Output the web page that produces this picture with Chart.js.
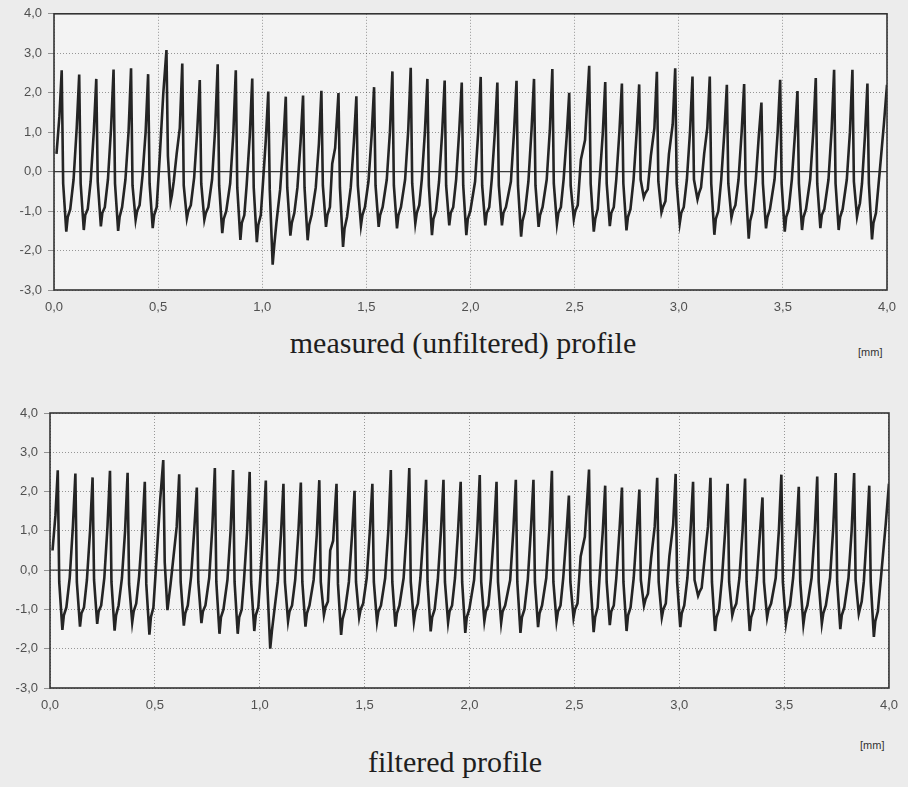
<!DOCTYPE html>
<html lang="en">
<head>
<meta charset="UTF-8">
<title>Measured and filtered profile</title>
<script src="https://cdn.jsdelivr.net/npm/chart.js"></script>
<style>
    body {
        margin: 0;
        width: 908px;
        height: 787px;
        overflow: hidden;
        position: relative;
        background: #ececec;
        font-family: "Liberation Sans", Arial, sans-serif;
    }
    .box { position: absolute; left: 0; width: 908px; }
    #topBox { top: 0; height: 322px; }
    #botBox { top: 380px; height: 340px; }
    .caption {
        position: absolute;
        font-family: "Liberation Serif", "Times New Roman", serif;
        font-size: 30px;
        color: #1e1e1e;
        white-space: nowrap;
        transform: translateX(-50%);
    }
    .unit { position: absolute; font-size: 11px; color: #333; }
</style>
</head>
<body>
<div class="box" id="topBox"><canvas id="measuredChart"></canvas></div>
<div class="caption" style="left:463px; top:326px;">measured (unfiltered) profile</div>
<div class="unit" style="left:858px; top:346px;">[mm]</div>

<div class="box" id="botBox"><canvas id="filteredChart"></canvas></div>
<div class="unit" style="left:860px; top:739px;">[mm]</div>
<div class="caption" style="left:455px; top:745px;">filtered profile</div>

<script>
// profile vertices [mm], one row per groove (peak, fall, notch, valley, rise...)
const profileX = [
    0.012, 0.026,
    0.037, 0.044, 0.059, 0.066, 0.078, 0.094, 0.109,
    0.121, 0.128, 0.143, 0.150, 0.162, 0.176, 0.191,
    0.203, 0.210, 0.225, 0.232, 0.244, 0.259, 0.274,
    0.286, 0.293, 0.308, 0.315, 0.327, 0.343, 0.358,
    0.370, 0.377, 0.392, 0.399, 0.411, 0.425, 0.440,
    0.452, 0.459, 0.474, 0.481, 0.493, 0.508, 0.525,
    0.540, 0.547, 0.560, 0.566, 0.575, 0.589, 0.604,
    0.616, 0.623, 0.638, 0.645, 0.657, 0.673, 0.688,
    0.700, 0.707, 0.722, 0.729, 0.741, 0.759, 0.774,
    0.786, 0.793, 0.808, 0.815, 0.827, 0.846, 0.861,
    0.873, 0.880, 0.895, 0.902, 0.914, 0.925, 0.940,
    0.952, 0.959, 0.974, 0.981, 0.993, 1.002, 1.017,
    1.029, 1.036, 1.050, 1.058, 1.068, 1.086, 1.101,
    1.113, 1.120, 1.135, 1.142, 1.154, 1.169, 1.184,
    1.196, 1.203, 1.218, 1.225, 1.237, 1.257, 1.272,
    1.284, 1.291, 1.306, 1.313, 1.325, 1.336, 1.350,
    1.366, 1.373, 1.388, 1.395, 1.407, 1.425, 1.440,
    1.452, 1.459, 1.474, 1.481, 1.493, 1.510, 1.525,
    1.537, 1.544, 1.559, 1.566, 1.578, 1.598, 1.613,
    1.625, 1.632, 1.647, 1.654, 1.666, 1.686, 1.701,
    1.713, 1.720, 1.735, 1.742, 1.754, 1.766, 1.781,
    1.793, 1.800, 1.815, 1.822, 1.834, 1.849, 1.864,
    1.876, 1.883, 1.898, 1.905, 1.917, 1.931, 1.946,
    1.958, 1.965, 1.980, 1.987, 1.999, 2.022, 2.037,
    2.049, 2.056, 2.071, 2.078, 2.090, 2.102, 2.117,
    2.129, 2.136, 2.151, 2.158, 2.170, 2.194, 2.209,
    2.221, 2.228, 2.243, 2.250, 2.262, 2.278, 2.293,
    2.305, 2.312, 2.327, 2.334, 2.346, 2.366, 2.381,
    2.393, 2.400, 2.415, 2.422, 2.434, 2.447, 2.462,
    2.474, 2.481, 2.496, 2.503, 2.515, 2.530, 2.550,
    2.570, 2.577, 2.592, 2.599, 2.611, 2.620, 2.635,
    2.647, 2.654, 2.669, 2.676, 2.688, 2.700, 2.715,
    2.727, 2.734, 2.749, 2.756, 2.768, 2.783, 2.798,
    2.810, 2.817, 2.832, 2.839, 2.851, 2.866, 2.883,
    2.895, 2.902, 2.917, 2.924, 2.936, 2.953, 2.971,
    2.983, 2.990, 3.005, 3.012, 3.024, 3.039, 3.054,
    3.066, 3.073, 3.090, 3.097, 3.107, 3.122, 3.137,
    3.149, 3.156, 3.171, 3.178, 3.190, 3.204, 3.219,
    3.231, 3.238, 3.253, 3.260, 3.272, 3.287, 3.302,
    3.314, 3.321, 3.336, 3.343, 3.355, 3.370, 3.385,
    3.397, 3.404, 3.419, 3.426, 3.438, 3.460, 3.475,
    3.487, 3.494, 3.509, 3.516, 3.528, 3.543, 3.558,
    3.570, 3.577, 3.592, 3.599, 3.611, 3.631, 3.646,
    3.658, 3.665, 3.680, 3.687, 3.699, 3.719, 3.734,
    3.746, 3.753, 3.768, 3.775, 3.787, 3.807, 3.822,
    3.834, 3.841, 3.856, 3.863, 3.870, 3.880, 3.894,
    3.906, 3.913, 3.928, 3.935, 3.947, 3.965, 3.985, 4.000
];

// measured (unfiltered) heights [µm]
const measuredY = [
    0.45, 1.40,
    2.57, -0.30, -1.52, -1.15, -0.95, -0.20, 1.10,
    2.46, -0.30, -1.48, -1.10, -0.95, -0.25, 1.00,
    2.35, -0.25, -1.39, -1.05, -0.90, -0.20, 1.10,
    2.59, -0.30, -1.50, -1.15, -0.90, -0.20, 1.00,
    2.62, -0.35, -1.22, -1.00, -0.85, -0.10, 1.00,
    2.47, -0.30, -1.43, -1.10, -0.90, 0.40, 2.00,
    3.08, 0.40, -0.76, -0.60, -0.25, 0.45, 1.10,
    2.74, -0.35, -1.18, -1.00, -0.85, -0.15, 1.05,
    2.32, -0.30, -1.22, -1.05, -0.90, -0.20, 1.10,
    2.72, -0.35, -1.56, -1.20, -1.00, -0.30, 0.95,
    2.57, -0.40, -1.73, -1.30, -1.10, -0.35, 0.90,
    2.36, -0.40, -1.79, -1.35, -1.10, -0.40, 0.80,
    2.03, -0.45, -2.36, -1.85, -1.30, -0.45, 0.70,
    1.90, -0.40, -1.62, -1.30, -1.05, -0.40, 0.75,
    1.93, -0.40, -1.74, -1.35, -1.10, -0.40, 0.70,
    2.05, -0.35, -1.40, -1.10, -0.90, 0.20, 0.60,
    1.99, -0.40, -1.91, -1.45, -1.15, -0.40, 0.75,
    1.91, -0.35, -1.36, -1.10, -0.90, -0.25, 0.90,
    2.14, -0.35, -1.40, -1.10, -0.90, -0.20, 1.00,
    2.54, -0.35, -1.44, -1.10, -0.90, -0.20, 1.05,
    2.63, -0.30, -1.31, -1.05, -0.85, -0.20, 1.00,
    2.35, -0.35, -1.61, -1.20, -1.00, -0.25, 1.00,
    2.31, -0.35, -1.36, -1.05, -0.90, -0.20, 1.05,
    2.26, -0.35, -1.61, -1.20, -1.00, -0.25, 1.00,
    2.40, -0.35, -1.36, -1.05, -0.90, -0.20, 1.00,
    2.26, -0.35, -1.36, -1.05, -0.90, -0.25, 1.00,
    2.30, -0.35, -1.65, -1.25, -1.00, -0.25, 1.05,
    2.35, -0.35, -1.40, -1.10, -0.90, -0.20, 1.05,
    2.60, -0.30, -1.32, -1.05, -0.90, -0.20, 0.90,
    2.00, -0.35, -1.20, -1.00, -0.85, 0.30, 0.80,
    2.68, -0.30, -1.52, -1.20, -0.95, -0.20, 0.95,
    2.27, -0.30, -1.38, -1.05, -0.90, -0.20, 1.00,
    2.23, -0.30, -1.49, -1.15, -0.95, -0.20, 1.00,
    2.21, -0.20, -0.65, -0.55, -0.45, 0.40, 1.10,
    2.53, -0.25, -1.03, -0.90, -0.75, 0.45, 1.20,
    2.62, -0.30, -1.30, -1.05, -0.90, -0.20, 1.00,
    2.41, -0.20, -0.70, -0.55, -0.40, 0.45, 1.10,
    2.41, -0.30, -1.60, -1.20, -1.00, -0.20, 1.00,
    2.20, -0.30, -1.17, -1.00, -0.85, -0.20, 1.00,
    2.22, -0.30, -1.70, -1.25, -1.00, -0.20, 0.95,
    1.75, -0.30, -1.44, -1.15, -0.95, -0.20, 1.00,
    2.33, -0.30, -1.52, -1.15, -0.95, -0.20, 0.95,
    2.04, -0.30, -1.48, -1.15, -0.95, -0.20, 1.00,
    2.37, -0.30, -1.43, -1.10, -0.95, -0.20, 1.05,
    2.58, -0.30, -1.48, -1.15, -0.95, -0.20, 1.00,
    2.58, -0.25, -1.14, -0.95, -0.80, -0.30, 0.90,
    2.23, -0.30, -1.72, -1.30, -1.05, 0.00, 1.20, 2.20
];

// filtered heights [µm]
const filteredY = [
    0.50, 1.40,
    2.54, -0.30, -1.52, -1.15, -0.95, -0.20, 1.10,
    2.46, -0.30, -1.44, -1.10, -0.95, -0.25, 1.00,
    2.36, -0.25, -1.37, -1.05, -0.90, -0.20, 1.10,
    2.53, -0.30, -1.54, -1.15, -0.90, -0.20, 1.00,
    2.48, -0.35, -1.33, -1.05, -0.85, -0.15, 1.00,
    2.25, -0.35, -1.64, -1.20, -0.95, 0.30, 1.76,
    2.80, 0.20, -1.02, -0.75, -0.35, 0.35, 1.10,
    2.44, -0.30, -1.41, -1.10, -0.90, -0.15, 1.05,
    2.10, -0.30, -1.35, -1.05, -0.90, -0.20, 1.10,
    2.60, -0.30, -1.62, -1.20, -1.00, -0.25, 1.00,
    2.55, -0.30, -1.62, -1.20, -1.00, -0.25, 1.00,
    2.50, -0.30, -1.55, -1.15, -0.95, -0.25, 0.95,
    2.28, -0.35, -2.00, -1.55, -1.10, -0.30, 0.90,
    2.20, -0.30, -1.30, -1.05, -0.90, -0.25, 0.95,
    2.23, -0.30, -1.44, -1.10, -0.90, -0.25, 0.90,
    2.29, -0.30, -1.14, -0.95, -0.80, 0.50, 0.75,
    2.20, -0.35, -1.65, -1.25, -1.00, -0.30, 0.90,
    2.02, -0.30, -1.20, -1.00, -0.85, -0.20, 1.00,
    2.20, -0.30, -1.31, -1.05, -0.90, -0.20, 1.00,
    2.55, -0.30, -1.44, -1.10, -0.90, -0.20, 1.05,
    2.60, -0.30, -1.31, -1.05, -0.85, -0.20, 1.00,
    2.30, -0.30, -1.56, -1.20, -1.00, -0.25, 1.00,
    2.30, -0.30, -1.33, -1.05, -0.90, -0.20, 1.05,
    2.25, -0.30, -1.60, -1.20, -1.00, -0.25, 1.00,
    2.42, -0.30, -1.30, -1.05, -0.90, -0.20, 1.00,
    2.25, -0.30, -1.34, -1.05, -0.90, -0.25, 1.00,
    2.30, -0.30, -1.60, -1.20, -1.00, -0.25, 1.05,
    2.30, -0.30, -1.45, -1.10, -0.90, -0.20, 1.05,
    2.53, -0.30, -1.30, -1.05, -0.90, -0.20, 0.90,
    1.90, -0.30, -1.21, -1.00, -0.85, 0.35, 0.85,
    2.56, -0.30, -1.58, -1.20, -0.95, -0.20, 0.95,
    2.15, -0.30, -1.40, -1.05, -0.90, -0.20, 1.00,
    2.10, -0.30, -1.55, -1.15, -0.95, -0.20, 1.00,
    2.05, -0.25, -0.90, -0.75, -0.60, 0.30, 1.10,
    2.35, -0.30, -1.20, -1.00, -0.85, 0.35, 1.15,
    2.45, -0.30, -1.45, -1.10, -0.90, -0.20, 1.00,
    2.25, -0.25, -0.65, -0.55, -0.45, 0.35, 1.10,
    2.35, -0.30, -1.55, -1.20, -1.00, -0.20, 1.00,
    2.20, -0.30, -1.15, -1.00, -0.85, -0.20, 1.00,
    2.33, -0.30, -1.55, -1.20, -1.00, -0.20, 0.95,
    1.85, -0.30, -1.20, -1.00, -0.85, -0.20, 1.00,
    2.43, -0.30, -1.35, -1.10, -0.90, -0.20, 0.95,
    2.12, -0.30, -1.38, -1.10, -0.90, -0.20, 1.00,
    2.38, -0.30, -1.36, -1.10, -0.90, -0.20, 1.05,
    2.47, -0.30, -1.50, -1.15, -0.95, -0.20, 1.00,
    2.47, -0.25, -1.11, -0.95, -0.80, -0.30, 0.90,
    2.15, -0.30, -1.70, -1.30, -1.05, 0.00, 1.20, 2.20
];

// axis ranges
const xRange = [0, 4];
const xStep = 0.5;
const yRange = [-3, 4];
const yStep = 1;

const comma = v => Number(v).toFixed(1).replace('.', ',');

// box around the plot + solid mean line at 0
const framePlugin = {
    id: 'frame',
    beforeDraw(chart) {
        const a = chart.chartArea, c = chart.ctx;
        c.save();
        c.fillStyle = '#f3f3f3';
        c.fillRect(a.left, a.top, a.right - a.left, a.bottom - a.top);
        c.restore();
    },
    beforeDatasetsDraw(chart) {
        const a = chart.chartArea, c = chart.ctx;
        const y0 = chart.scales.y.getPixelForValue(0);
        c.save();
        c.strokeStyle = '#3a3a3a';
        c.lineWidth = 1.3;
        c.beginPath();
        c.moveTo(a.left, y0);
        c.lineTo(a.right, y0);
        c.stroke();
        c.restore();
    },
    afterDraw(chart) {
        const a = chart.chartArea, c = chart.ctx;
        c.save();
        c.strokeStyle = '#333';
        c.lineWidth = 1.6;
        c.strokeRect(a.left, a.top, a.right - a.left, a.bottom - a.top);
        c.restore();
    }
};

function makeChart(id, ys, pad, yWidth, xHeight) {
    const pts = profileX.map((x, i) => ({ x: x, y: ys[i] }));
    return new Chart(document.getElementById(id), {
        type: 'line',
        data: {
            datasets: [{
                data: pts,
                borderColor: '#242424',
                borderWidth: 2.6,
                pointRadius: 0,
                tension: 0,
                fill: false
            }]
        },
        options: {
            responsive: true,
            maintainAspectRatio: false,
            devicePixelRatio: 1,
            animation: false,
            layout: { padding: pad },
            plugins: { legend: { display: false }, tooltip: { enabled: false } },
            scales: {
                x: {
                    type: 'linear',
                    min: xRange[0],
                    max: xRange[1],
                    afterFit: s => { s.height = xHeight; },
                    ticks: {
                        stepSize: xStep,
                        callback: comma,
                        color: '#505050',
                        padding: 10,
                        font: { family: 'Liberation Sans', size: 13 }
                    },
                    grid: { color: 'rgba(0,0,0,0.38)', drawTicks: false },
                    border: { display: false, dash: [1, 2] }
                },
                y: {
                    min: yRange[0],
                    max: yRange[1],
                    afterFit: s => { s.width = yWidth; },
                    ticks: {
                        stepSize: yStep,
                        callback: comma,
                        color: '#505050',
                        padding: 6,
                        font: { family: 'Liberation Sans', size: 13 }
                    },
                    grid: { color: 'rgba(0,0,0,0.38)', tickLength: 6 },
                    border: { display: false, dash: [1, 2] }
                }
            }
        },
        plugins: [framePlugin]
    });
}

makeChart('measuredChart', measuredY, { top: 13, right: 21, left: 0, bottom: 0 }, 54, 32);
makeChart('filteredChart', filteredY, { top: 33, right: 18, left: 0, bottom: 0 }, 50, 32);
</script>
</body>
</html>
